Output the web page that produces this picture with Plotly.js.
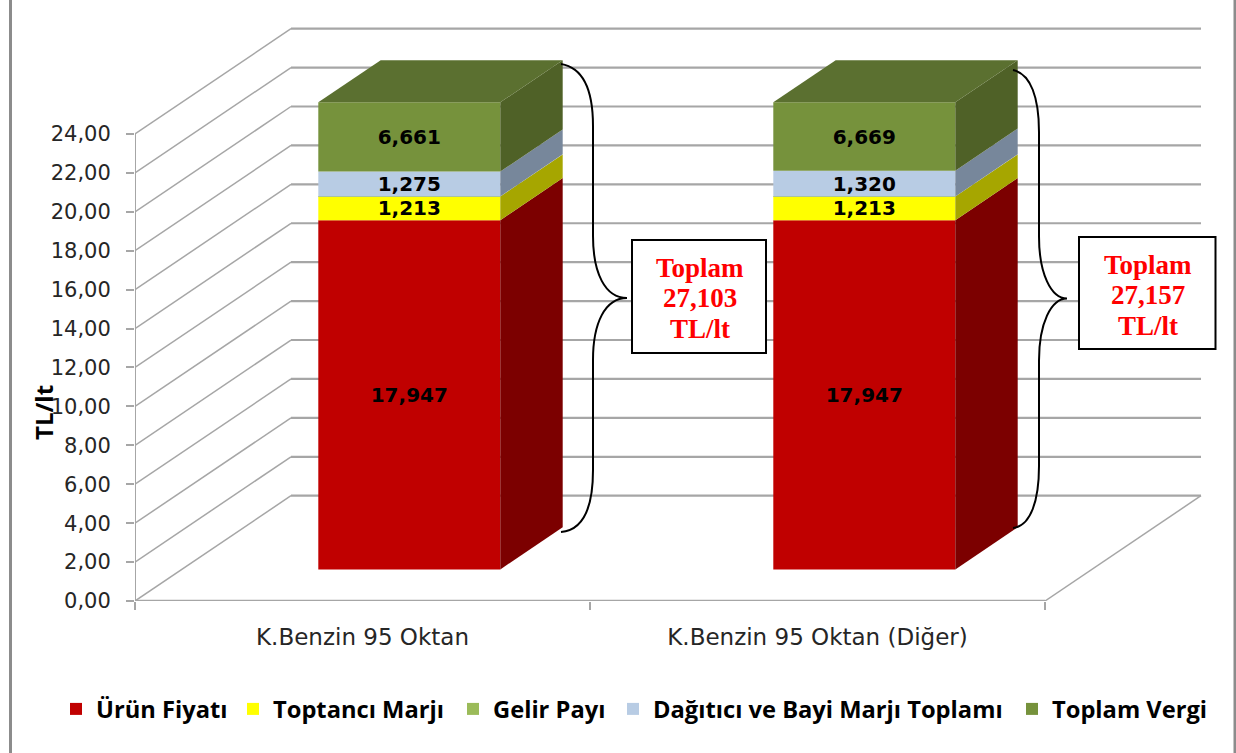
<!DOCTYPE html>
<html>
<head>
<meta charset="utf-8">
<script src="https://cdn.plot.ly/plotly-3.0.1.min.js"></script>
<style>html,body{margin:0;padding:0;background:#fff}#chart{width:1236px;height:753px}</style>
</head>
<body>
<div id="chart"></div>
<script>
// ---- data ----
const categories = ['K.Benzin 95 Oktan', 'K.Benzin 95 Oktan (Diğer)'];
const seriesNames = ['Ürün Fiyatı', 'Toptancı Marjı', 'Gelir Payı', 'Dağıtıcı ve Bayi Marjı Toplamı', 'Toplam Vergi'];
const urunFiyati = [17.947, 17.947];
const toptanciMarji = [1.213, 1.213];
const gelirPayi = [0.007, 0.008];
const dagiticiMarji = [1.275, 1.320];
const toplamVergi = [6.661, 6.669];
const toplam = [27.103, 27.157];
const axisTicks = [0, 2, 4, 6, 8, 10, 12, 14, 16, 18, 20, 22, 24];
const axisMax = 24;

// ---- styles ----
const frontColors = ['#c00000', '#ffff00', '#9bbb59', '#b8cce4', '#76923c'];
const sideColors = ['#7c0000', '#a6a600', '#5f7530', '#77879b', '#4f6127'];
const topColor = '#5b7030';
const gridColor = '#a6a6a6';
const W = 1236, H = 753;
const M = {l: 135, r: 15, t: 20, b: 152};
const PX_PER_CAT = 455, PX_PER_UNIT = 19.46;
const DEPTH_PX_X = 156, DEPTH_PX_Y = 105.3;
const DX = DEPTH_PX_X / PX_PER_CAT, DY = DEPTH_PX_Y / PX_PER_UNIT;
const BAR_WIDTH = 0.4, D0 = 0.30, D1 = 0.70;
const FONT = '"Open Sans", Lato, sans-serif';
const WIDE = '"DejaVu Sans", sans-serif';
const legendLeft = [56, 233, 453, 613, 1012];

const xMax = (W - M.l - M.r) / PX_PER_CAT;
const yMax = (H - M.t - M.b) / PX_PER_UNIT;
const toX = px => (px - M.l) / PX_PER_CAT;
const toY = py => (H - M.b - py) / PX_PER_UNIT;

const allSeries = [urunFiyati, toptanciMarji, gelirPayi, dagiticiMarji, toplamVergi];
const fmt3 = v => v.toFixed(3).replace('.', ',');

// stacked, cut at the axis maximum as the 3-D column was
const bands = allSeries.map((s, i) => s.map((v, c) => {
  let lo = 0;
  for (let k = 0; k < i; k++) lo += allSeries[k][c];
  return [Math.min(lo, axisMax), Math.min(lo + v, axisMax)];
}));

const legendId = i => i === 0 ? 'legend' : 'legend' + (i + 1);
const traces = [];
allSeries.forEach((s, i) => {
  traces.push({
    type: 'bar', name: seriesNames[i], legend: legendId(i),
    x: categories.map((_, c) => c + 0.5 + D0 * DX),
    y: bands[i].map(b => b[1] - b[0]),
    base: bands[i].map(b => b[0] + D0 * DY),
    width: BAR_WIDTH,
    marker: {color: frontColors[i], line: {width: 0}},
    text: s.map(v => v < 0.1 ? '' : fmt3(v)),
    textposition: 'inside', insidetextanchor: 'middle', constraintext: 'none',
    textangle: 0,
    insidetextfont: {family: WIDE, size: 20, weight: 700, color: '#000'},
    hoverinfo: 'name+text'
  });
});
// side faces
allSeries.forEach((s, i) => {
  categories.forEach((_, c) => {
    const xr = c + 0.5 + D0 * DX + BAR_WIDTH / 2, d = (D1 - D0);
    const [lo, hi] = bands[i][c];
    traces.push({
      type: 'scatter', mode: 'lines', fill: 'toself', fillcolor: sideColors[i],
      line: {width: 0, color: sideColors[i]}, showlegend: false, hoverinfo: 'skip',
      x: [xr, xr + d * DX, xr + d * DX, xr, xr],
      y: [lo + D0 * DY, lo + D1 * DY, hi + D1 * DY, hi + D0 * DY, lo + D0 * DY]
    });
  });
});
// top faces
categories.forEach((_, c) => {
  const xl = c + 0.5 + D0 * DX - BAR_WIDTH / 2, d = (D1 - D0);
  const top = bands[4][c][1] + D0 * DY;
  traces.push({
    type: 'scatter', mode: 'lines', fill: 'toself', fillcolor: topColor,
    line: {width: 0, color: topColor}, showlegend: false, hoverinfo: 'skip',
    x: [xl, xl + BAR_WIDTH, xl + BAR_WIDTH + d * DX, xl + d * DX, xl],
    y: [top, top, top + d * DY, top + d * DY, top]
  });
});

// walls and floor
const shapes = [];
const ln = (x0, y0, x1, y1, w, col) => ({type: 'line', layer: 'below', xref: 'x', yref: 'y',
  x0, y0, x1, y1, line: {color: col || gridColor, width: w}});
axisTicks.forEach(t => {
  shapes.push(ln(0, t, DX, t + DY, 1.5));
  shapes.push(ln(DX, t + DY, categories.length + DX, t + DY, 2.2));
});
shapes.push(ln(0, 0, 0, axisMax, 2));
shapes.push(ln(0, 0, categories.length, 0, 2.5));
shapes.push(ln(categories.length, 0, categories.length + DX, DY, 1.5));

// page frame
[10.5, 1235].forEach(px => shapes.push({type: 'line', layer: 'below', xref: 'paper', yref: 'paper',
  x0: (px - M.l) / (W - M.l - M.r), x1: (px - M.l) / (W - M.l - M.r),
  y0: -M.b / (H - M.t - M.b), y1: 1 + M.t / (H - M.t - M.b),
  line: {color: '#8c8c8c', width: 3}}));

// curly braces
function brace(xs, ys0, xm, xt, yt, ys1) {
  const P = (x, y) => toX(x).toFixed(5) + ',' + toY(y).toFixed(4);
  return {type: 'path', xref: 'x', yref: 'y', layer: 'above', line: {color: '#000', width: 2},
    path: 'M' + P(xs, ys0) +
      ' C' + P(xm - 8, ys0 + 4) + ' ' + P(xm, ys0 + 28) + ' ' + P(xm, ys0 + 62) +
      ' L' + P(xm, yt - 62) +
      ' C' + P(xm, yt - 25) + ' ' + P(xm + 12, yt) + ' ' + P(xt, yt) +
      ' C' + P(xm + 12, yt) + ' ' + P(xm, yt + 25) + ' ' + P(xm, yt + 62) +
      ' L' + P(xm, ys1 - 62) +
      ' C' + P(xm, ys1 - 28) + ' ' + P(xm - 8, ys1 - 2) + ' ' + P(xs, ys1)};
}
shapes.push(brace(561, 64, 593, 627, 298, 532));
shapes.push(brace(1013, 70, 1039, 1067, 298.5, 528));

// boxes holding the totals
[[632, 240, 766, 353], [1079, 237, 1215.5, 349]].forEach(b => shapes.push({
  type: 'rect', layer: 'above', xref: 'x', yref: 'y',
  x0: toX(b[0]), x1: toX(b[2]), y0: toY(b[1]), y1: toY(b[3]),
  fillcolor: '#fff', line: {color: '#000', width: 2}
}));

const pxAnn = (px, py) => ({xref: 'paper', yref: 'paper',
  x: (px - M.l) / (W - M.l - M.r), y: (H - M.b - py) / (H - M.t - M.b)});
const boxCenters = [699.5, 1147.5];
const boxLines = [[268, 298, 329], [265, 295, 326]];
const annotations = [];
toplam.forEach((v, i) => {
  ['Toplam', fmt3(v), 'TL/lt'].forEach((t, k) => annotations.push(Object.assign(
    pxAnn(boxCenters[i], boxLines[i][k]), {
      text: '<b>' + t + '</b>', showarrow: false, xanchor: 'center', yanchor: 'middle',
      font: {family: '"Liberation Serif", serif', size: 27, color: '#ff0000'}
    })));
});
annotations.push(Object.assign(pxAnn(43, 413), {
  text: '<b>TL/lt</b>', showarrow: false, textangle: -90, xanchor: 'center', yanchor: 'middle',
  font: {family: FONT, size: 24, color: '#000'}
}));

const layout = {
  width: W, height: H, margin: M, paper_bgcolor: '#fff', plot_bgcolor: 'rgba(0,0,0,0)',
  barmode: 'overlay', hovermode: false,
  xaxis: {
    range: [0, xMax], showgrid: false, zeroline: false, showline: false, fixedrange: true,
    tickmode: 'array', tickvals: categories.map((_, c) => c + 0.5), ticktext: categories,
    ticks: '', ticklen: 0, ticklabelstandoff: 20,
    tickfont: {family: WIDE, size: 23, color: '#262626'},
    minor: {tickmode: 'array', tickvals: [0, 1, 2], ticks: 'outside', ticklen: 8, tickwidth: 2, tickcolor: gridColor, showgrid: false}
  },
  yaxis: {
    range: [0, yMax], showgrid: false, zeroline: false, showline: false, fixedrange: true,
    tickmode: 'array', tickvals: axisTicks, ticktext: axisTicks.map(t => t.toFixed(2).replace('.', ',')),
    ticks: 'outside', ticklen: 8, tickwidth: 2, tickcolor: gridColor, ticklabelstandoff: 11,
    tickfont: {family: WIDE, size: 21, color: '#262626'}
  },
  shapes, annotations, showlegend: true
};
legendLeft.forEach((px, i) => {
  layout[legendId(i)] = {
    orientation: 'h', xref: 'container', yref: 'container', x: px / W, y: 1 - 687 / H,
    xanchor: 'left', yanchor: 'top', bgcolor: 'rgba(0,0,0,0)', borderwidth: 0,
    font: {family: FONT, size: 23.7, weight: 700, color: '#000'}
  };
});
Plotly.newPlot('chart', traces, layout, {displayModeBar: false, responsive: false});
</script>
</body>
</html>
